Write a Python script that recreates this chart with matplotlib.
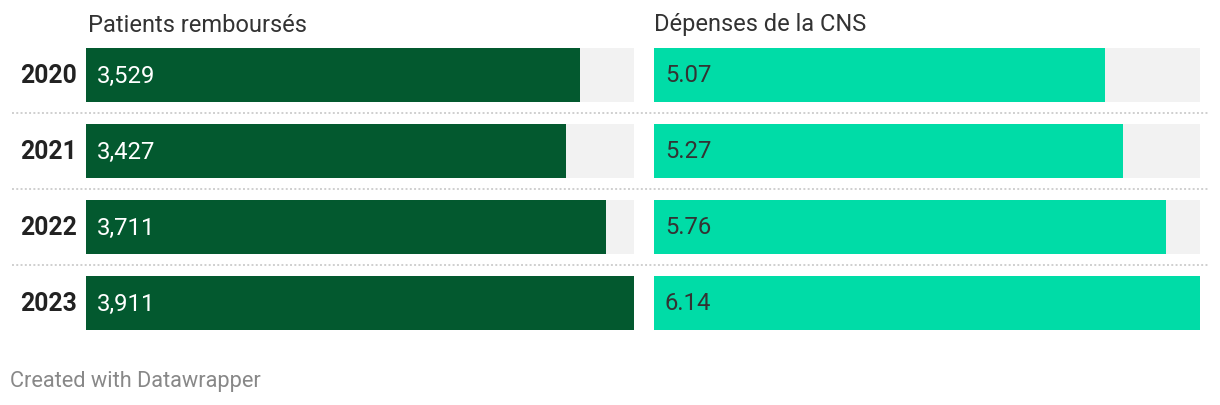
import matplotlib

matplotlib.use("Agg")
import matplotlib.pyplot as plt  # noqa: E402
from matplotlib.lines import Line2D  # noqa: E402
from matplotlib.transforms import blended_transform_factory  # noqa: E402

plt.rcParams["font.family"] = ["Roboto", "DejaVu Sans"]

years = ["2020", "2021", "2022", "2023"]
patients = [3529, 3427, 3711, 3911]
patient_labels = ["3,529", "3,427", "3,711", "3,911"]
spending = [5.07, 5.27, 5.76, 6.14]
spending_labels = ["5.07", "5.27", "5.76", "6.14"]
titles = ["Patients remboursés", "Dépenses de la CNS"]
footer = "Created with Datawrapper"

W, H = 1220, 406
fig = plt.figure(figsize=(W / 100, H / 100), dpi=100)


def px_axes(x0, y0, x1, y1):
    # pixel box (top-left origin) -> figure fraction axes
    return fig.add_axes([x0 / W, 1 - y1 / H, (x1 - x0) / W, (y1 - y0) / H])


def draw_panel(ax, values, labels, color, text_color):
    vmax = max(values)
    rows = range(len(values))
    ax.barh(rows, [vmax] * len(values), height=54 / 76, color="#f2f2f2", linewidth=0)
    ax.barh(rows, values, height=54 / 76, color=color, linewidth=0)
    offset = vmax * 11 / 548
    for i, lab in zip(rows, labels):
        ax.text(offset, i, lab, color=text_color, fontsize=17.2, va="center", ha="left")
    ax.set_xlim(0, vmax)
    ax.set_ylim(len(values) - 0.5, -0.5)
    ax.axis("off")


ax_left = px_axes(86, 38, 634, 342)
ax_right = px_axes(654, 38, 1200, 342)
draw_panel(ax_left, patients, patient_labels, "#03592f", "white")
draw_panel(ax_right, spending, spending_labels, "#00dca7", "#333333")

for i, y in enumerate(years):
    ax_left.text(-9 / 548 * max(patients), i, y, fontsize=17.8, fontweight="bold",
                 color="#222222", ha="right", va="center")

# dotted separators across both panels
trans = blended_transform_factory(fig.transFigure, ax_left.transData)
for k in range(len(years) - 1):
    fig.lines.append(Line2D([12 / W, 1208 / W], [k + 0.5, k + 0.5], transform=trans,
                            color="#cfcfcf", linewidth=1.4, linestyle=(0, (1, 1.2))))

fig.text(88 / W, 1 - 25 / H, titles[0], fontsize=17, color="#333333", va="center", ha="left")
fig.text(654 / W, 1 - 25 / H, titles[1], fontsize=17, color="#333333", va="center", ha="left")
fig.text(10 / W, 1 - 382 / H, footer, fontsize=15.7, color="#888888", va="center", ha="left")

fig.savefig("out.png", dpi=100)
